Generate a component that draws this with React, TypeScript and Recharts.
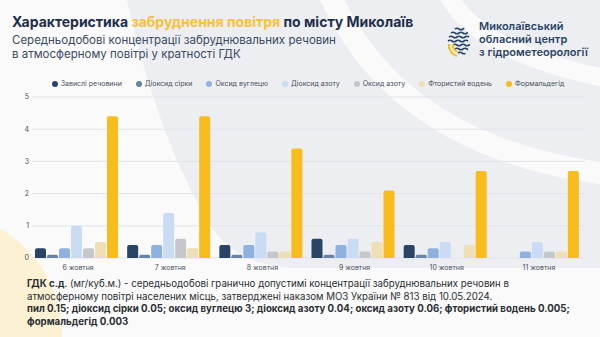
import { BarChart, Bar, CartesianGrid, XAxis, YAxis } from 'recharts';

const dates = ['6 жовтня', '7 жовтня', '8 жовтня', '9 жовтня', '10 жовтня', '11 жовтня'];

// concentrations in multiples of the daily limit (ГДК)
const dust = [0.3, 0.4, 0.4, 0.6, 0.4, 0];
const sulfurDioxide = [0.1, 0.1, 0.1, 0.1, 0.1, 0];
const carbonMonoxide = [0.3, 0.4, 0.4, 0.4, 0.3, 0.2];
const nitrogenDioxide = [1.0, 1.4, 0.8, 0.6, 0.5, 0.5];
const nitrogenOxide = [0.3, 0.6, 0.2, 0.2, 0, 0.2];
const hydrogenFluoride = [0.5, 0.3, 0.2, 0.5, 0.4, 0.2];
const formaldehyde = [4.4, 4.4, 3.4, 2.1, 2.7, 2.7];

const yTicks = [0, 1, 2, 3, 4, 5];

const series = [
  { key: 'dust', name: 'Завислі речовини', values: dust, color: '#2a4466' },
  { key: 'so2', name: 'Діоксид сірки', values: sulfurDioxide, color: '#6a84a6' },
  { key: 'co', name: 'Оксид вуглецю', values: carbonMonoxide, color: '#8fb1e0' },
  { key: 'no2', name: 'Діоксид азоту', values: nitrogenDioxide, color: '#c9dcf3' },
  { key: 'no', name: 'Оксид азоту', values: nitrogenOxide, color: '#c5c7cb' },
  { key: 'hf', name: 'Фтористий водень', values: hydrogenFluoride, color: '#eedfb6' },
  { key: 'ch2o', name: 'Формальдегід', values: formaldehyde, color: '#f8bd1c' },
];

const data = dates.map((date, i) => {
  const row: Record<string, string | number> = { date };
  series.forEach((s) => {
    row[s.key] = s.values[i];
  });
  return row;
});

const font = 'Inter, "Noto Sans", sans-serif';
const navy = '#1f2f4a';

function Background() {
  return (
    <svg width={600} height={337} style={{ position: 'absolute', left: 0, top: 0 }}>
      <rect width={600} height={337} fill="#fafafb" />
      <path d="M127,0 C140,60 165,150 210,225 C230,255 260,268 300,268 L600,268 L600,0 Z" fill="#eceef2" />
      <path d="M330,-5 Q400,150 615,175" stroke="#fafafb" strokeWidth={22} fill="none" />
      <path d="M448,-5 Q480,55 615,80" stroke="#fafafb" strokeWidth={18} fill="none" />
      <circle cx={-60} cy={335} r={122} fill="#fdf1d4" />
    </svg>
  );
}

function Logo() {
  const rows = [29, 33, 37, 41, 45, 49, 53];
  return (
    <svg width={26} height={34} style={{ position: 'absolute', left: 447, top: 24 }}>
      {rows.map((y, i) => {
        const half = [5, 9, 11, 12, 11, 9, 6][i];
        return (
          <path
            key={y}
            d={`M${13 - half + (i > 3 ? 4 : 0)},${y - 24} q2,-1.5 4,0 t4,0 t4,0 t4,0 t4,0`}
            stroke="#2a4466"
            strokeWidth={1.6}
            fill="none"
            strokeDasharray={`${half * 2 - (i > 3 ? 4 : 0)} 40`}
          />
        );
      })}
      <path d="M2,20 A11,11 0 0 0 10,32" stroke="#f8bd1c" strokeWidth={2.2} fill="none" />
      <path d="M6,20 A7,7 0 0 0 11,28" stroke="#f8bd1c" strokeWidth={1.8} fill="none" />
    </svg>
  );
}

export default function App() {
  return (
    <div style={{ position: 'relative', width: 600, height: 337, overflow: 'hidden', fontFamily: font }}>
      <style>{'body{margin:0}'}</style>
      <Background />

      <div style={{ position: 'absolute', left: 12, top: 13, fontSize: 14, fontWeight: 700, color: navy, whiteSpace: 'nowrap' }}>
        Характеристика <span style={{ color: '#f7c13a' }}>забруднення повітря</span> по місту Миколаїв
      </div>
      <div style={{ position: 'absolute', left: 12, top: 33, fontSize: 11.5, lineHeight: '14px', color: '#3b4a60' }}>
        Середньодобові концентрації забруднювальних речовин
        <br />в атмосферному повітрі у кратності ГДК
      </div>

      <Logo />
      <div style={{ position: 'absolute', left: 479, top: 20, fontSize: 11, lineHeight: '13px', fontWeight: 600, color: '#2a4466' }}>
        Миколаївський
        <br />обласний центр
        <br />з гідрометеорології
      </div>

      <div style={{ position: 'absolute', left: 0, top: 79, width: 616, display: 'flex', justifyContent: 'center', gap: 14, fontSize: 7, color: '#4a5059' }}>
        {series.map((s) => (
          <div key={s.key} style={{ display: 'flex', alignItems: 'center', gap: 3 }}>
            <span style={{ width: 6, height: 6, borderRadius: 3, background: s.color, display: 'inline-block' }} />
            {s.name}
          </div>
        ))}
      </div>

      <div style={{ position: 'absolute', left: 0, top: 0 }}>
        <BarChart width={600} height={337} data={data} margin={{ top: 97, right: 15, bottom: 65, left: 0 }} barCategoryGap={3} barGap={1}>
          <CartesianGrid vertical={false} stroke="#e2e4e9" />
          <XAxis dataKey="date" height={14} axisLine={false} tickLine={false} tickMargin={1} tick={{ fontSize: 7, fill: '#4a5059' }} />
          <YAxis width={32} domain={[0, 5]} ticks={yTicks} axisLine={false} tickLine={false} tickSize={0} tickMargin={3} tick={{ fontSize: 7, fill: '#4a5059' }} />
          {series.map((s) => (
            <Bar key={s.key} dataKey={s.key} name={s.name} fill={s.color} radius={[2, 2, 0, 0]} isAnimationActive={false} />
          ))}
        </BarChart>
      </div>

      <div style={{ position: 'absolute', left: 27, top: 278, fontSize: 9.7, lineHeight: '12.5px', color: '#2b2e33', whiteSpace: 'nowrap' }}>
        <b>ГДК с.д</b>. (мг/куб.м.) - середньодобові гранично допустимі концентрації забруднювальних речовин в
        <br />атмосферному повітрі населених місць, затверджені наказом МОЗ України № 813 від 10.05.2024.
        <br />
        <b>пил 0.15; діоксид сірки 0.05; оксид вуглецю 3; діоксид азоту 0.04; оксид азоту 0.06; фтористий водень 0.005;</b>
        <br />
        <b>формальдегід 0.003</b>
      </div>
    </div>
  );
}
